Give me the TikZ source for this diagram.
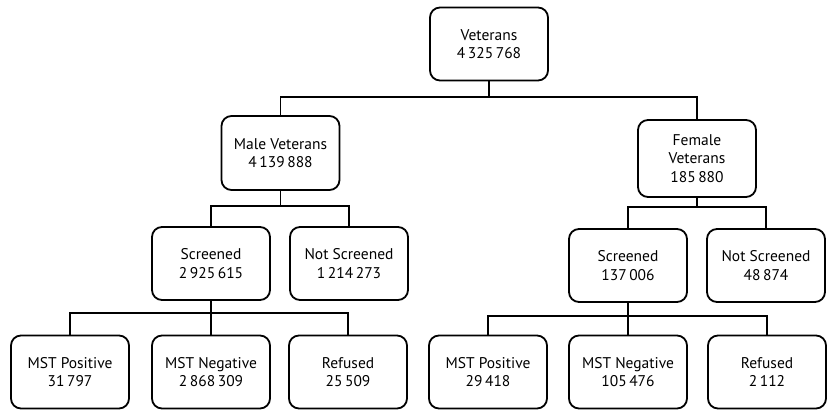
\documentclass[tikz,border=0pt]{standalone}
\usepackage{fontspec}
\setmainfont{PT Sans}
\begin{document}
\begin{tikzpicture}[x=1pt,y=-1pt,
  box/.style={draw,line width=1.8pt,rounded corners=10pt,minimum width=118pt,minimum height=73pt,
    align=center,inner sep=2pt,font=\fontsize{15.5}{18.5}\selectfont},
  conn/.style={line width=1.8pt}]
\useasboundingbox (0,0) rectangle (827,411);
\node[box] (vet) at (489,44) {Veterans\\4\,325\,768};
\node[box,minimum height=74pt] (male) at (280.5,153) {Male Veterans\\4\,139\,888};
\node[box,minimum height=77pt] (fem) at (697,158.5) {Female\\Veterans\\185\,880};
\node[box] (mscr) at (211,263.5) {Screened\\2\,925\,615};
\node[box] (mnot) at (349,263.5) {Not Screened\\1\,214\,273};
\node[box] (fscr) at (628,265.5) {Screened\\137\,006};
\node[box] (fnot) at (766,265.5) {Not Screened\\48\,874};
\node[box] (mpos) at (70,372) {MST Positive\\31\,797};
\node[box] (mneg) at (211,372) {MST Negative\\2\,868\,309};
\node[box] (mref) at (348,372) {Refused\\25\,509};
\node[box] (fpos) at (488,372) {MST Positive\\29\,418};
\node[box] (fneg) at (628,372) {MST Negative\\105\,476};
\node[box] (fref) at (767,372) {Refused\\2\,112};
\coordinate (b0) at (0,97);
\coordinate (b1) at (0,206);
\coordinate (b2) at (0,207);
\coordinate (b3) at (0,313);
\coordinate (b4) at (0,316);
\draw[conn] (vet.south) -- (vet.south |- b0);
\draw[conn] (male.north) -- (male.north |- b0) -- (fem.north |- b0) -- (fem.north);
\draw[conn] (male.south) -- (male.south |- b1);
\draw[conn] (mscr.north) -- (mscr.north |- b1) -- (mnot.north |- b1) -- (mnot.north);
\draw[conn] (fem.south) -- (fem.south |- b2);
\draw[conn] (fscr.north) -- (fscr.north |- b2) -- (fnot.north |- b2) -- (fnot.north);
\draw[conn] (mscr.south) -- (mneg.north);
\draw[conn] (mpos.north) -- (mpos.north |- b3) -- (mref.north |- b3) -- (mref.north);
\draw[conn] (fscr.south) -- (fneg.north);
\draw[conn] (fpos.north) -- (fpos.north |- b4) -- (fref.north |- b4) -- (fref.north);
\end{tikzpicture}
\end{document}
